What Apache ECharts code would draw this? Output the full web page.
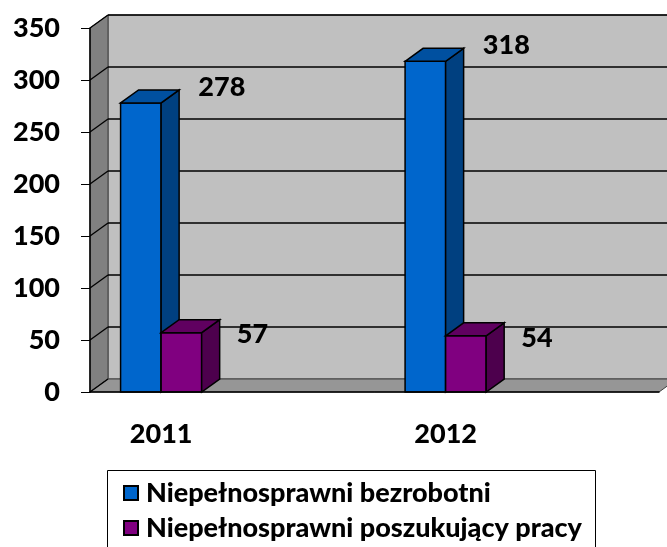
<!DOCTYPE html>
<html>
<head>
<meta charset="utf-8">
<script src="https://cdn.jsdelivr.net/npm/echarts@6/dist/echarts.min.js"></script>
<style>
  html, body { margin: 0; padding: 0; background: #fff; }
  #chart { width: 667px; height: 547px; }
</style>
</head>
<body>
<div id="chart"></div>
<script>
// dane
var years = ['2011', '', '2012', '']
var bezrobotni = [278, null, 318, null]
var poszukujacy = [57, null, 54, null]
var yTicks = [0, 50, 100, 150, 200, 250, 300, 350]
var seriesNames = ['Niepełnosprawni bezrobotni', 'Niepełnosprawni poszukujący pracy']

var FONT = 'Lato'
var WEIGHT = 900
var DX = 18, DY = -13 // glebokosc 3D
var BAR_RATIO = 0.285

function toPoints (arr) {
  var out = []
  arr.forEach(function (v, i) { if (v != null) out.push([i, v]) })
  return out
}

// sciany: tylna, boczna, podloga
function renderWalls (params, api) {
  var cs = params.coordSys
  var left = cs.x, right = cs.x + cs.width
  var top = cs.y, bottom = cs.y + cs.height
  var children = [
    { type: 'rect', shape: { x: left + DX, y: top + DY, width: cs.width + 20, height: cs.height },
      style: { fill: '#c0c0c0', stroke: '#404040', lineWidth: 1 } },
    { type: 'polygon', shape: { points: [[left, top], [left + DX, top + DY], [left + DX, bottom + DY], [left, bottom]] },
      style: { fill: '#808080', stroke: '#404040', lineWidth: 1 } },
    { type: 'polygon', shape: { points: [[left, bottom], [left + DX, bottom + DY], [right + DX, bottom + DY], [right, bottom]] },
      style: { fill: '#969696', stroke: '#404040', lineWidth: 1 } }
  ]
  yTicks.forEach(function (v) {
    var y = api.coord([0, v])[1]
    if (v > 0) {
      children.push({ type: 'line', shape: { x1: left + DX, y1: y + DY, x2: right + DX + 20, y2: y + DY },
        style: { stroke: '#000', lineWidth: 1.6 } })
    }
    children.push({ type: 'line', shape: { x1: left, y1: y, x2: left + DX, y2: y + DY },
      style: { stroke: '#000', lineWidth: 1.3 } })
  })
  return { type: 'group', children: children }
}

function barRenderer (idx, colors, labelOff) {
  return function (params, api) {
    var cat = api.value(0), val = api.value(1)
    var base = api.coord([cat, 0])
    var top = api.coord([cat, val])
    var bw = api.size([1, 0])[0] * BAR_RATIO
    var x0 = base[0] - bw + idx * bw, x1 = x0 + bw
    var y0 = base[1], y1 = top[1]
    var line = { stroke: '#000', lineWidth: 1.5 }
    return {
      type: 'group',
      children: [
        { type: 'rect', shape: { x: x0, y: y1, width: bw, height: y0 - y1 },
          style: Object.assign({ fill: colors[0] }, line) },
        { type: 'polygon', shape: { points: [[x1, y1], [x1 + DX, y1 + DY], [x1 + DX, y0 + DY], [x1, y0]] },
          style: Object.assign({ fill: colors[1] }, line) },
        { type: 'polygon', shape: { points: [[x0, y1], [x0 + DX, y1 + DY], [x1 + DX, y1 + DY], [x1, y1]] },
          style: Object.assign({ fill: colors[2] }, line) },
        { type: 'text', x: x0 + bw / 2 + labelOff[0], y: y1 + labelOff[1],
          style: { text: String(val), fontFamily: FONT, fontWeight: WEIGHT, fontSize: 27,
            fill: '#000', align: 'center', verticalAlign: 'middle' } }
      ]
    }
  }
}

function legendItem (name, top) {
  return {
    left: 123, top: top, padding: 0,
    itemWidth: 14, itemHeight: 14,
    icon: 'rect',
    data: [name],
    textStyle: { color: '#000', fontFamily: FONT, fontWeight: WEIGHT, fontSize: 27, lineHeight: 30, padding: [0, 0, 0, 3] }
  }
}

var chart = echarts.init(document.getElementById('chart'))
chart.setOption({
  backgroundColor: '#fff',
  animation: false,
  grid: { left: 90, top: 28, width: 569, height: 364 },
  xAxis: {
    type: 'category',
    data: years,
    z: 5,
    axisLine: { lineStyle: { color: '#000', width: 1.5 } },
    axisTick: { length: 9, lineStyle: { color: '#000', width: 1 } },
    axisLabel: { color: '#000', fontFamily: FONT, fontWeight: WEIGHT, fontSize: 27, margin: 29 }
  },
  yAxis: {
    type: 'value',
    min: 0, max: 350, interval: 50,
    z: 5,
    axisLine: { show: true, lineStyle: { color: '#000', width: 1.5 } },
    axisTick: { show: true, length: 9, lineStyle: { color: '#000', width: 1 } },
    splitLine: { show: false },
    axisLabel: { color: '#000', fontFamily: FONT, fontWeight: WEIGHT, fontSize: 27, margin: 30 }
  },
  legend: [legendItem(seriesNames[0], 478), legendItem(seriesNames[1], 513)],
  graphic: [
    { type: 'rect', left: 105, top: 468, shape: { width: 488, height: 100 },
      style: { fill: 'none', stroke: '#000', lineWidth: 1 }, z: 0 }
  ],
  series: [
    {
      type: 'custom', name: 'walls', z: 0, silent: true,
      renderItem: renderWalls,
      data: [[0, 0]]
    },
    {
      type: 'custom', name: seriesNames[0], z: 3,
      itemStyle: { color: '#0066cc', borderColor: '#000', borderWidth: 1.5 },
      renderItem: barRenderer(0, ['#0066cc', '#004080', '#0050a0'], [81, -16]),
      data: toPoints(bezrobotni)
    },
    {
      type: 'custom', name: seriesNames[1], z: 4,
      itemStyle: { color: '#800080', borderColor: '#000', borderWidth: 1.5 },
      renderItem: barRenderer(1, ['#800080', '#4d004d', '#600060'], [71, 2]),
      data: toPoints(poszukujacy)
    }
  ]
})
</script>
</body>
</html>
